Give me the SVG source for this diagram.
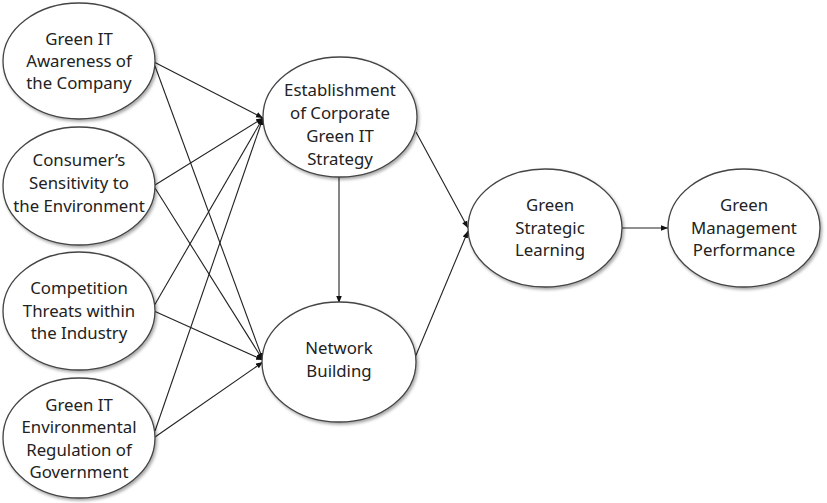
<svg xmlns="http://www.w3.org/2000/svg" width="827" height="503" viewBox="0 0 827 503">
<defs>
<marker id="arr" viewBox="0 0 10 10" refX="10" refY="5" markerWidth="7" markerHeight="7" markerUnits="userSpaceOnUse" orient="auto">
<path d="M0,1 L10,5 L0,9 z" fill="#111"/>
</marker>
<filter id="sh" x="-10%" y="-10%" width="125%" height="125%">
<feDropShadow dx="1.5" dy="2" stdDeviation="1.5" flood-color="#000" flood-opacity="0.35"/>
</filter>
</defs>
<style>
.n ellipse{fill:#fff;stroke:#444;stroke-width:1.3;filter:url(#sh)}
.n text{font-family:"Noto Sans","Open Sans","DejaVu Sans",sans-serif;font-size:16.8px;fill:#222;text-anchor:middle}
.c line{stroke:#222;stroke-width:1.1;marker-end:url(#arr)}
</style>
<rect width="827" height="503" fill="#fff"/>
<g class="c" id="connectors">
<line x1="154" y1="62" x2="263" y2="118"/>
<line x1="155" y1="66" x2="263" y2="360"/>
<line x1="155" y1="185" x2="263" y2="118"/>
<line x1="155" y1="188" x2="263" y2="360"/>
<line x1="154" y1="306" x2="263" y2="118"/>
<line x1="154" y1="311" x2="263" y2="360"/>
<line x1="155" y1="431" x2="263" y2="118"/>
<line x1="155" y1="437" x2="263" y2="362"/>
<line x1="339" y1="177" x2="339" y2="303"/>
<line x1="416" y1="132" x2="468" y2="228"/>
<line x1="414" y1="360" x2="468" y2="231"/>
<line x1="622" y1="228" x2="668" y2="228"/>
</g>
<g class="n" id="n1">
<ellipse cx="79" cy="61" rx="76" ry="58"/>
<text x="79" y="45">Green IT</text>
<text x="79" y="67">Awareness of</text>
<text x="79" y="89">the Company</text>
</g>
<g class="n" id="n2">
<ellipse cx="79" cy="186" rx="76" ry="59"/>
<text x="79" y="166">Consumer’s</text>
<text x="79" y="189">Sensitivity to</text>
<text x="79" y="212">the Environment</text>
</g>
<g class="n" id="n3">
<ellipse cx="79" cy="311" rx="76" ry="59"/>
<text x="79" y="294">Competition</text>
<text x="79" y="317">Threats within</text>
<text x="79" y="339">the Industry</text>
</g>
<g class="n" id="n4">
<ellipse cx="79" cy="438" rx="76" ry="60"/>
<text x="79" y="411">Green IT</text>
<text x="79" y="433">Environmental</text>
<text x="79" y="456">Regulation of</text>
<text x="79" y="478">Government</text>
</g>
<g class="n" id="n5">
<ellipse cx="340" cy="117" rx="77" ry="60"/>
<text x="340" y="96">Establishment</text>
<text x="340" y="119">of Corporate</text>
<text x="340" y="142">Green IT</text>
<text x="340" y="165">Strategy</text>
</g>
<g class="n" id="n6">
<ellipse cx="339" cy="362" rx="77" ry="60"/>
<text x="339" y="354">Network</text>
<text x="339" y="377">Building</text>
</g>
<g class="n" id="n7">
<ellipse cx="545" cy="228" rx="77" ry="59"/>
<text x="550" y="211">Green</text>
<text x="550" y="234">Strategic</text>
<text x="550" y="256">Learning</text>
</g>
<g class="n" id="n8">
<ellipse cx="744" cy="228" rx="76" ry="59"/>
<text x="744" y="211">Green</text>
<text x="744" y="234">Management</text>
<text x="744" y="256">Performance</text>
</g>
</svg>
